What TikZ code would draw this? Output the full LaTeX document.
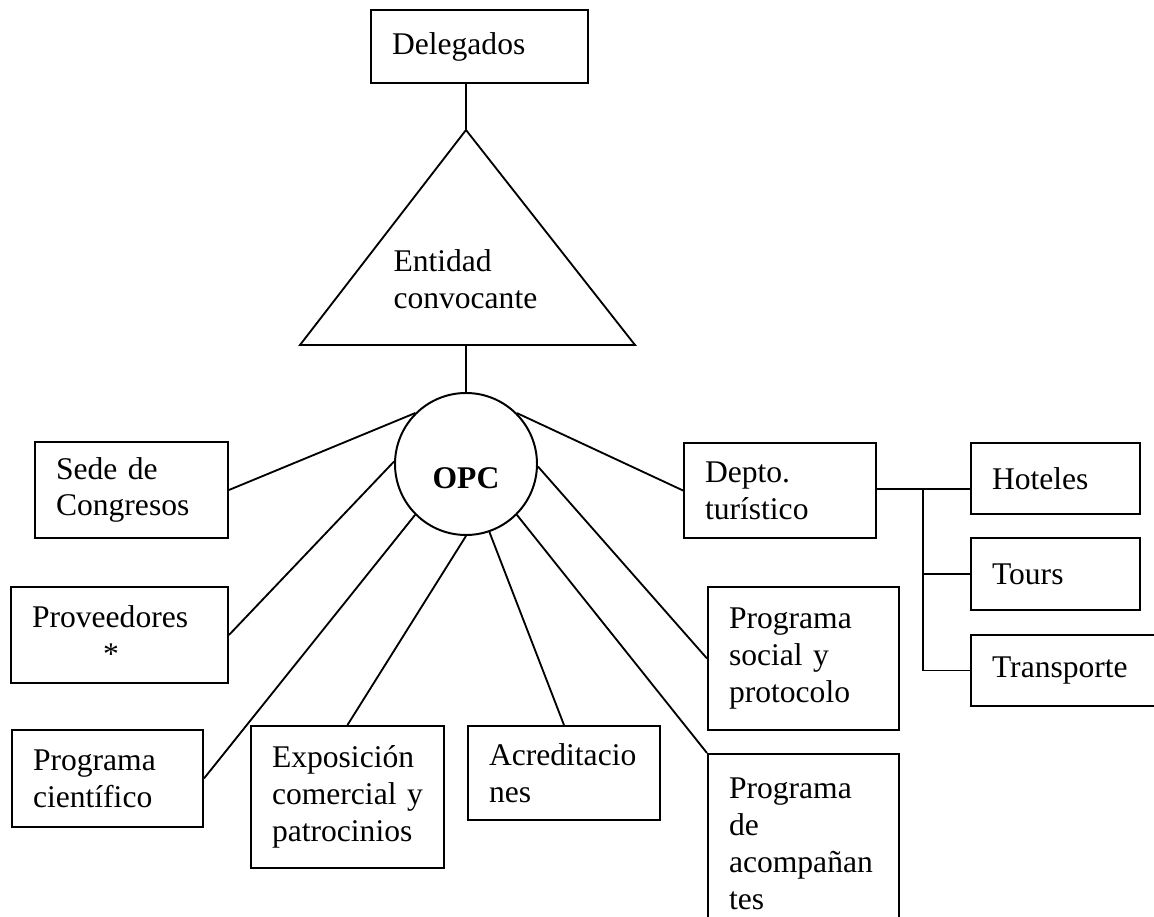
\documentclass[tikz,border=0pt]{standalone}
\usepackage{fontspec}
\setmainfont{Liberation Serif}
\usepackage{tikz}
\usetikzlibrary{positioning,calc}
\tikzset{
  orgtext/.style={font=\fontsize{12}{14}\selectfont},
  orgbox/.style={orgtext, draw, line width=0.75pt, anchor=north west, align=left, inner xsep=8pt, inner ysep=0pt},
  boxsize/.style 2 args={minimum width=#1*0.38pt, text width=#1*0.38pt-16pt, minimum height=#2*0.38pt},
  orghub/.style={draw, circle, line width=0.75pt, minimum size=142*0.38pt, inner sep=0pt, font=\fontsize{12}{14}\selectfont\bfseries, text height=18.6pt, text depth=0pt},
  orgline/.style={line width=0.7pt}
}

\begin{document}
\begin{tikzpicture}[x=0.38pt, y=-0.38pt]
    \useasboundingbox (0,0) rectangle (1154,917);
    \node[orgbox, boxsize={217}{73}] (delegados) at (370,9) {Delegados};
    \coordinate (apex) at (466,130);
    \coordinate (baseL) at (300,345);
    \coordinate (baseR) at (635,345);
    \draw[orgline] (baseL) -- (apex) -- (baseR) -- cycle;
    \node[orgtext, anchor=west, align=left, inner sep=0pt] (entidad) at (393,279) {Entidad\\convocante};
    \node[orghub] (opc) at (466,464) {OPC};
    \node[orgbox, boxsize={193}{96}] (sede) at (34,441) {Sede de\\Congresos};
    \node[orgbox, boxsize={217}{96}] (prov) at (10,586) {Proveedores\\\hspace*{27pt}*};
    \node[orgbox, boxsize={191}{97}] (cient) at (11,729) {Programa\\científico};
    \node[orgbox, boxsize={193}{142}] (expo) at (250,725) {Exposición\\comercial y\\patrocinios};
    \node[orgbox, boxsize={192}{94}] (acred) at (467,725) {Acreditacio\\nes};
    \node[orgbox, boxsize={191}{180}] (acomp) at (707,753) {Programa\\de\\acompañan\\tes};
    \node[orgbox, boxsize={191}{143}] (social) at (707,586) {Programa\\social y\\protocolo};
    \node[orgbox, boxsize={192}{95}] (depto) at (683,442) {Depto.\\turístico};
    \node[orgbox, boxsize={169}{71}] (hoteles) at (970,442) {Hoteles};
    \node[orgbox, boxsize={169}{72}] (tours) at (970,537) {Tours};
    \node[orgbox, boxsize={200}{71}] (transp) at (970,634) {Transporte};
    \coordinate (bus) at (923,489);
    \draw[orgline] (apex |- delegados.south) -- (apex);
    \draw[orgline] (opc.north |- baseL) -- (opc.north);
    \draw[orgline] (opc.135) -- (sede.east);
    \draw[orgline] (opc.178) -- (prov.east);
    \draw[orgline] (opc.225) -- (cient.east);
    \draw[orgline] (opc.270) -- (expo.north);
    \draw[orgline] (opc.289) -- (acred.north);
    \draw[orgline] (opc.315) -- (acomp.north west);
    \draw[orgline] (opc.358) -- (social.west);
    \draw[orgline] (opc.45) -- (depto.west);
    \draw[orgline] (depto.east |- bus) -- (hoteles.west |- bus);
    \draw[orgline] (bus) |- (transp.west);
    \draw[orgline] (bus |- tours.west) -- (tours.west);
  \end{tikzpicture}
\end{document}
